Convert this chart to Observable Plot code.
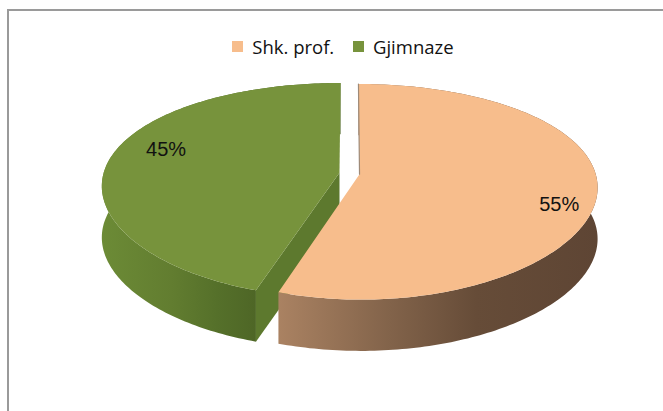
<!DOCTYPE html>
<html>
<head>
<meta charset="utf-8">
<script src="https://cdn.jsdelivr.net/npm/d3@7"></script>
<script src="https://cdn.jsdelivr.net/npm/@observablehq/plot@0.6"></script>
<style>
  html, body { margin: 0; padding: 0; background: #fff; }
  body { width: 663px; height: 411px; overflow: hidden; position: relative; }
  #chart { position: absolute; left: 0; top: 0; }
  #frame { position: absolute; left: 7px; top: 9px; width: 670px; height: 420px;
           border-top: 2px solid #9a9a9a; border-left: 2px solid #9a9a9a; pointer-events: none; }
  #legend { position: absolute; left: 232px; top: 30px; }
</style>
</head>
<body>
<div id="chart"></div>
<div id="frame"></div>
<div id="legend"></div>
<script>
// ---- data ----
const categories = ["Shk. prof.", "Gjimnaze"];
const shares = [55, 45];
const labels = ["55%", "45%"];

// ---- styles ----
const topColors = ["#F7BD8C", "#77933C"];
const sideFaceColors = ["#8a6a52", "#5D792E"];
const wallStops = [
  [["0%", "#AA8262"], ["35%", "#82634A"], ["62%", "#664C38"], ["100%", "#5E4534"]],
  [["0%", "#6C8B36"], ["45%", "#627D30"], ["75%", "#55702A"], ["100%", "#4E6626"]]
];

// ---- layout (3D projection) ----
const CX = 349, CY = 173, RX = 236, RY = 104.7; // projected radii in px
const KX = 0.12, KY = 0.163; // perspective strength
const T = 0.49;         // thickness in units of RY
const EXPLODE = 0.043;  // explosion distance (unit radius)
const labelR = 0.8;
const labelNudge = [[10, 17], [10, -10]]; // px

const toRad = d => d * Math.PI / 180;
const total = d3.sum(shares);
let acc = 0;
const slices = shares.map((v, i) => {
  const a0 = acc / total * 360;
  acc += v;
  const a1 = acc / total * 360;
  const mid = toRad((a0 + a1) / 2);
  return {i, name: categories[i], a0, a1, mid,
          ex: EXPLODE * Math.sin(mid), ey: EXPLODE * Math.cos(mid)};
});

// point on a slice at angle deg (clockwise from back), radius r, depth z below top
function proj(s, deg, r, z) {
  const t = toRad(deg);
  const wx = s.ex + r * Math.sin(t), wy = s.ey + r * Math.cos(t);
  return {x: wx / (1 + KX * wy), y: wy / (1 + KY * wy) - z};
}
function arc(s, from, to, z) {
  const n = Math.max(2, Math.ceil(Math.abs(to - from)));
  return d3.range(n + 1).map(j => proj(s, from + (to - from) * j / n, 1, z));
}
function topFace(s) { return [proj(s, 0, 0, 0), ...arc(s, s.a0, s.a1, 0)]; }
function wall(s) { return [...arc(s, s.a0, s.a1, 0), ...arc(s, s.a1, s.a0, T)]; }
function startFace(s) { // radial face at the start angle
  return [proj(s, s.a0, 0, 0), proj(s, s.a0, 1, 0), proj(s, s.a0, 1, T), proj(s, s.a0, 0, T)];
}

const [orange, green] = slices;
const poly = (pts, fill) => Plot.line(pts, {x: "x", y: "y", curve: "linear-closed", fill, stroke: "none"});

const labelData = slices.map(s => {
  const p = proj(s, (s.a0 + s.a1) / 2, labelR, 0);
  return {x: p.x + labelNudge[s.i][0] / RX, y: p.y - labelNudge[s.i][1] / RY, text: labels[s.i]};
});

const chart = Plot.plot({
  width: 663, height: 411,
  margin: 0,
  style: {background: "transparent", overflow: "visible"},
  x: {domain: [-1, 1], range: [CX - RX, CX + RX], axis: null},
  y: {domain: [-1, 1], range: [CY + RY, CY - RY], axis: null},
  marks: [
    // green slice (behind)
    poly(wall(green), "url(#wall1)"),
    poly(startFace(green), sideFaceColors[1]),
    poly(topFace(green), topColors[1]),
    // orange slice (front)
    poly(wall(orange), "url(#wall0)"),
    poly(topFace(orange), topColors[0]),
    Plot.line([proj(orange, 0, 0, 0), proj(orange, 0, 1, 0)], {x: "x", y: "y", stroke: "#9e8a78", strokeWidth: 1.2}),
    Plot.text(labelData, {x: "x", y: "y", text: "text", fontSize: 20, fill: "#111",
      fontFamily: "'Liberation Sans', Arial, sans-serif"})
  ]
});

// gradients for the side walls (horizontal shading)
const xs = chart.scale("x");
const defs = d3.create("svg:defs");
const wallExtent = [
  [proj(orange, orange.a1, 1, 0).x, proj(orange, 99, 1, 0).x],
  [proj(green, 263, 1, 0).x, proj(green, green.a0, 1, 0).x]
];
wallStops.forEach((stops, i) => {
  const g = defs.append("linearGradient").attr("id", "wall" + i)
    .attr("gradientUnits", "userSpaceOnUse")
    .attr("x1", xs.apply(wallExtent[i][0])).attr("x2", xs.apply(wallExtent[i][1]))
    .attr("y1", 0).attr("y2", 0);
  stops.forEach(([o, c]) => g.append("stop").attr("offset", o).attr("stop-color", c));
});
chart.insertBefore(defs.node(), chart.firstChild);
document.getElementById("chart").appendChild(chart);

const legend = Plot.legend({
  color: {type: "categorical", domain: categories, range: topColors},
  legend: "swatches",
  swatchSize: 11,
  style: {fontFamily: "'Open Sans', sans-serif", fontSize: "18.5px", color: "#111", margin: "0"}
});
document.getElementById("legend").appendChild(legend);
</script>
</body>
</html>
